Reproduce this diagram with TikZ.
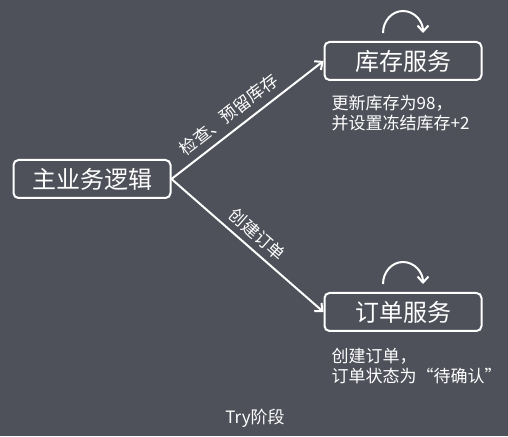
\documentclass[tikz,border=0pt]{standalone}
\usepackage{fontspec}
\setmainfont{Noto Sans CJK SC}
\usetikzlibrary{arrows.meta,positioning}
\definecolor{bgcol}{RGB}{79,81,90}
\tikzstyle{svc}=[shape=rectangle,draw=white,line width=2pt,rounded corners=5pt,minimum width=157pt,minimum height=38pt,inner sep=0pt,text=white,font=\fontsize{24}{28}\selectfont]
\tikzstyle{to}=[-{Straight Barb[length=6pt,width=11pt]},white,line width=2pt]
\tikzstyle{lbl}=[text=white,font=\fontsize{17}{20}\selectfont,sloped,above]
\tikzstyle{note}=[text=white,font=\fontsize{17}{20}\selectfont,align=left,inner sep=0pt,anchor=north west]

\begin{document}
\begin{tikzpicture}[x=1pt,y=1pt]
            \fill[bgcol] (0,0) rectangle (508,436);
            \node[svc] (main) at (92,257) {主业务逻辑}
            ;
            \node[svc] (stock) at (403,375) {库存服务}
            ;
            \node[svc] (order) at (403,124) {订单服务}
            ;
            \draw[to] (main.east) -- node[lbl,pos=0.44,inner sep=7pt] {检查、预留库存} (stock.west);
            \draw[to] (main.east) -- node[lbl,pos=0.50,inner sep=6pt] {创建订单} (order.west);
            % self loops
            \draw[to] ([xshift=-20pt,yshift=8pt]stock.north) arc[start angle=180,end angle=0,x radius=20pt,y radius=22pt];
            \draw[to] ([xshift=-20pt,yshift=8pt]order.north) arc[start angle=180,end angle=0,x radius=20pt,y radius=22pt];
            % notes
            \node[note] (stocknote) at ([xshift=8pt,yshift=-14pt]stock.south west) {更新库存为98，\\并设置冻结库存+2}
            ;
            \node[note] (ordernote) at ([xshift=8pt,yshift=-16pt]order.south west) {创建订单，\\订单状态为“待确认”}
            ;
            \node[text=white,font=\fontsize{17}{20}\selectfont] (phase) at (255,18) {Try阶段}
            ;
\end{tikzpicture}
\end{document}
